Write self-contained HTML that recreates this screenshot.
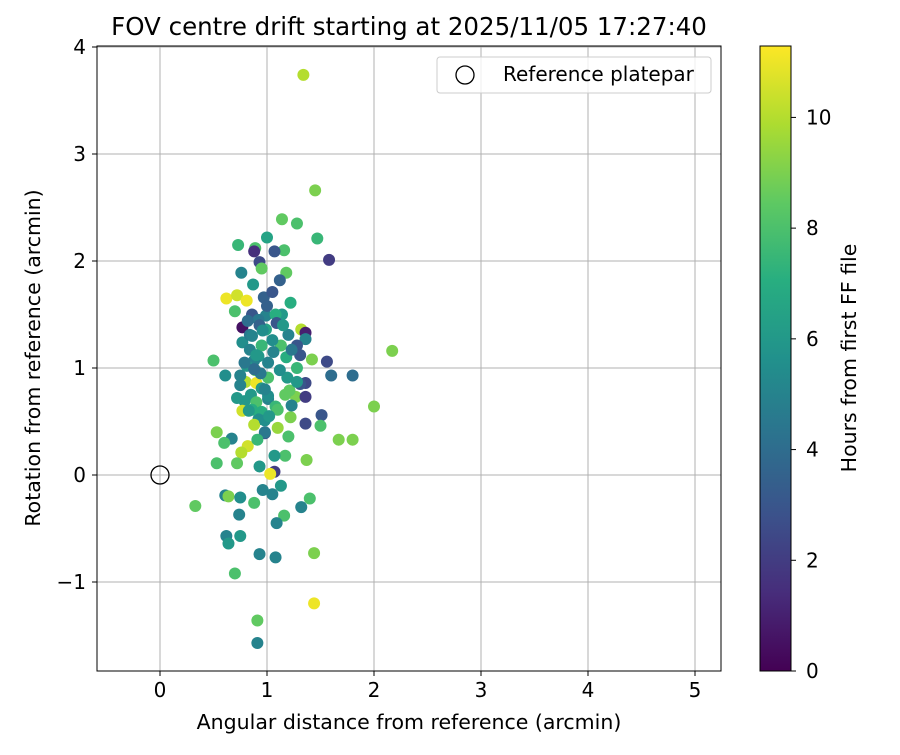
<!DOCTYPE html>
<html><head><meta charset="utf-8"><style>
body{margin:0;background:#fff;}
svg text{font-family:"DejaVu Sans","Liberation Sans",sans-serif;fill:#000;}
</style></head><body>
<svg id="chart" width="900" height="750" xmlns="http://www.w3.org/2000/svg">
<defs><linearGradient id="vir" x1="0" y1="1" x2="0" y2="0">
<stop offset="0" stop-color="#440154"/><stop offset="0.125" stop-color="#472d7b"/><stop offset="0.25" stop-color="#3b528b"/><stop offset="0.375" stop-color="#2c728e"/><stop offset="0.5" stop-color="#21918c"/><stop offset="0.625" stop-color="#28ae80"/><stop offset="0.75" stop-color="#5ec962"/><stop offset="0.875" stop-color="#addc30"/><stop offset="1" stop-color="#fde725"/></linearGradient></defs>
<g id="grid"></g><g id="pts"></g><g id="axes"></g>
</svg>
<script>
const xVals=[1.34,1.45,1.14,1.28,1.47,0.73,1.0,0.89,1.16,1.07,0.88,0.93,1.58,0.95,1.18,0.76,1.12,0.87,0.62,0.72,0.81,1.22,0.97,1.05,0.70,0.86,0.99,1.14,1.08,0.92,1.09,0.77,1.32,1.36,0.99,1.20,0.77,0.84,1.36,1.13,0.95,0.92,1.28,0.88,1.31,1.18,0.50,1.42,1.56,2.17,0.61,1.60,1.80,1.28,0.80,0.90,0.75,1.36,1.19,0.85,0.79,0.72,1.27,1.36,1.01,0.90,1.51,0.95,0.77,1.22,2.0,0.92,1.10,1.50,0.88,0.53,0.67,0.98,1.20,0.60,0.82,0.76,1.67,1.80,0.53,0.72,0.93,1.37,1.17,1.07,1.07,1.03,0.61,0.64,0.75,0.33,0.88,0.96,1.05,1.13,1.40,1.16,0.74,1.32,1.09,0.62,0.64,0.75,0.93,1.08,1.44,0.70,1.44,0.91,0.91,0.89,1.01,0.95,1.01,1.12,1.21,1.08,0.86,0.98,1.23,1.31,1.17,0.81,0.75,0.84,1.05,0.93,1.0,1.15,1.23,1.28,0.98,0.91,1.10,1.36,1.01,0.82,0.86,0.90,0.94,0.98,0.83,0.88,0.96,1.02,0.79,1.06];
const yVals=[3.74,2.66,2.39,2.35,2.21,2.15,2.22,2.12,2.10,2.09,2.09,1.99,2.01,1.93,1.89,1.89,1.82,1.78,1.65,1.68,1.63,1.61,1.66,1.71,1.53,1.50,1.49,1.50,1.50,1.45,1.42,1.38,1.36,1.33,1.36,1.31,1.24,1.31,1.27,1.21,1.21,1.11,1.21,1.07,1.12,1.10,1.07,1.08,1.06,1.16,0.93,0.93,0.93,1.00,0.87,0.86,0.84,0.86,0.91,0.75,0.69,0.72,0.73,0.73,0.71,0.68,0.56,0.59,0.60,0.54,0.64,0.52,0.44,0.46,0.47,0.40,0.34,0.39,0.36,0.30,0.27,0.21,0.33,0.33,0.11,0.11,0.08,0.14,0.18,0.18,0.03,0.01,-0.19,-0.20,-0.21,-0.29,-0.26,-0.14,-0.18,-0.10,-0.22,-0.38,-0.37,-0.30,-0.45,-0.57,-0.64,-0.57,-0.74,-0.77,-0.73,-0.92,-1.20,-1.36,-1.57,0.98,0.91,0.81,1.05,0.98,0.79,0.64,0.61,0.51,0.65,0.85,0.75,1.02,0.93,1.17,1.26,1.40,1.58,1.40,1.17,0.87,0.40,0.33,0.61,0.48,0.74,1.44,1.30,1.12,0.95,0.80,0.60,0.99,1.35,0.55,1.05,1.15];
const hours=[10,9,8.5,8,7.5,7.5,6.5,8,8,3,1.5,2.5,2,8.5,8.5,5,3.5,6,11,10.5,11,7,3.5,3,8,3,5,6,7,4.5,3,0.5,10,1,6.5,5,5.5,4.5,5,8,7.5,6,3,5,3,7,8,9,2.5,9,5.5,4,4,7.5,10,11,5,2.5,6,6,6,6,9,2,5,8,3,7,10.5,9,9,5.5,9.5,8,10,9,5,3,8,8,10.5,10,9,9,8,8.5,6,9,8,6,2,11,5,9,5.5,8.5,8,5,5,6,8,8,5,5,5,5,6,6,5,5,9,8,11,8.5,5,8.5,8,6,5,5.5,8.5,7.5,7,5.5,5,3,8.5,6,5,5,5.5,3.5,3.5,6,4.5,6,4.5,7.5,8,2.5,5.5,4,5,6,4.5,5,6,4,5.5,6,4.5,5,6];
const xTicks=[0,1,2,3,4,5], yTicks=[-1,0,1,2,3,4], cTicks=[0,2,4,6,8,10];
const X=v=>160+v*107, Y=v=>475-v*107;
const C=v=>671-v*(671-46)/11.29;
const stops=["#440154","#472d7b","#3b528b","#2c728e","#21918c","#28ae80","#5ec962","#addc30","#fde725"];
function vir(h){let t=Math.max(0,Math.min(1,h/11.29))*8,i=Math.min(7,Math.floor(t)),f=t-i;
 const a=stops[i],b=stops[i+1],p=(s,k)=>parseInt(s.substr(k,2),16);
 let r=[1,3,5].map(k=>Math.round(p(a,k)+(p(b,k)-p(a,k))*f));return `rgb(${r})`;}
const NS="http://www.w3.org/2000/svg";
function mk(tag,attrs,parent,txt){const e=document.createElementNS(NS,tag);for(const k in attrs)e.setAttribute(k,attrs[k]);if(txt!==undefined)e.textContent=txt;document.getElementById(parent).appendChild(e);return e;}
xTicks.forEach(v=>{const l=mk('line',{x1:X(v),x2:X(v),y1:46,y2:671,stroke:'#b0b0b0','stroke-width':1},'grid');

});
yTicks.forEach(v=>{const l=mk('line',{x1:97,x2:721,y1:Y(v),y2:Y(v),stroke:'#b0b0b0','stroke-width':1},'grid');

});
xVals.forEach((x,i)=>{const c=mk('circle',{cx:X(x),cy:Y(yVals[i]),r:6,fill:vir(hours[i])},'pts');

});
const ref=mk('circle',{cx:X(0),cy:Y(0),r:9,fill:'none',stroke:'#000','stroke-width':1.3},'pts');


const fr=mk('rect',{x:97,y:46,width:624,height:625,fill:'none',stroke:'#000','stroke-width':1},'axes');


xTicks.forEach(v=>{mk('line',{x1:X(v),x2:X(v),y1:671,y2:676,stroke:'#000'},'axes');
const t=mk('text',{x:X(v),y:697,'text-anchor':'middle','font-size':20},'axes',String(v));

});
yTicks.forEach(v=>{mk('line',{x1:92,x2:97,y1:Y(v),y2:Y(v),stroke:'#000'},'axes');
const t=mk('text',{x:86,y:Y(v)+7,'text-anchor':'end','font-size':20},'axes',v<0?'\u2212'+Math.abs(v):String(v));

});
const cb=mk('rect',{x:760,y:46,width:31,height:625,fill:'url(#vir)',stroke:'#000','stroke-width':1},'axes');


cTicks.forEach(v=>{mk('line',{x1:791,x2:796,y1:C(v),y2:C(v),stroke:'#000'},'axes');
const t=mk('text',{x:806,y:C(v)+7,'font-size':20},'axes',String(v));

});
</script>
<svg style="position:absolute;left:0;top:0" width="900" height="750" xmlns="http://www.w3.org/2000/svg">
<text x="409" y="35" text-anchor="middle" font-size="24.5">FOV centre drift starting at 2025/11/05 17:27:40</text>
<text x="409" y="729" text-anchor="middle" font-size="20.5">Angular distance from reference (arcmin)</text>
<text transform="translate(40,358) rotate(-90)" text-anchor="middle" font-size="20.5">Rotation from reference (arcmin)</text>
<text transform="translate(856,358) rotate(-90)" text-anchor="middle" font-size="20.5">Hours from first FF file</text>
<g>
<rect x="437" y="57" width="274" height="36" rx="3" fill="#fff" fill-opacity="0.8" stroke="#ccc"/>
<circle cx="465" cy="75" r="9" fill="none" stroke="#000" stroke-width="1.3"/>
<text x="503" y="81" font-size="20">Reference platepar</text>
</g>
</svg>
</body></html>
